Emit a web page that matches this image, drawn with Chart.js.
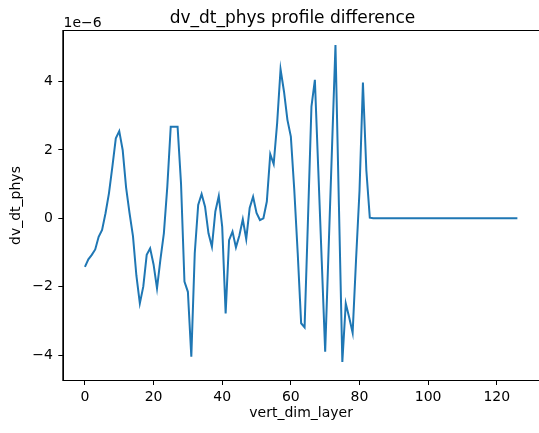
<!DOCTYPE html>
<html>
<head>
<meta charset="utf-8">
<script src="https://cdn.jsdelivr.net/npm/chart.js@4"></script>
<style>
    html, body { margin: 0; padding: 0; background: #fff; }
    #wrap { width: 539px; height: 433px; }
</style>
</head>
<body>
<div id="wrap"><canvas id="profileChart"></canvas></div>
<script>
// dv_dt_phys difference per layer, in units of 1e-6
const dvDtPhys = [
    -1.42, -1.20, -1.07, -0.91, -0.54, -0.34, 0.15, 0.73, 1.51, 2.34,
    2.55, 2.00, 0.90, 0.15, -0.52, -1.68, -2.49, -2.00, -1.07, -0.88,
    -1.35, -2.05, -1.20, -0.44, 0.92, 2.68, 2.68, 2.68, 1.02, -1.85,
    -2.15, -4.05, -1.02, 0.39, 0.71, 0.34, -0.44, -0.83, 0.20, 0.65,
    -0.25, -2.78, -0.64, -0.39, -0.85, -0.50, -0.03, -0.61, 0.30, 0.63,
    0.16, -0.05, 0.00, 0.49, 1.88, 1.59, 2.78, 4.36, 3.71, 2.88,
    2.39, 0.83, -1.02, -3.07, -3.19, 0.00, 3.27, 4.05, 1.40, -1.25,
    -3.90, -0.90, 2.09, 5.07, 0.40, -4.20, -2.49, -2.90, -3.35, -1.20,
    0.80, 3.97, 1.40, 0.02, 0, 0, 0, 0, 0, 0,
    0, 0, 0, 0, 0, 0, 0, 0, 0, 0,
    0, 0, 0, 0, 0, 0, 0, 0, 0, 0,
    0, 0, 0, 0, 0, 0, 0, 0, 0, 0,
    0, 0, 0, 0, 0, 0, 0
];
const layers = dvDtPhys.map((_, i) => i);
const xTicks = [0, 20, 40, 60, 80, 100, 120];
const yTicks = [-4, -2, 0, 2, 4];

const FONT = 'DejaVu Sans';

// title, offset text and the box round the axes
const framePlugin = {
    id: 'frame',
    afterDraw(chart) {
        const { ctx, chartArea: a } = chart;
        ctx.save();
        ctx.strokeStyle = '#000';
        ctx.lineWidth = 1;
        ctx.strokeRect(a.left - 0.5, a.top - 0.5, a.right - a.left + 1, a.bottom - a.top + 1);
        ctx.fillStyle = '#000';
        ctx.textBaseline = 'alphabetic';
        ctx.font = '17px ' + FONT;
        ctx.textAlign = 'center';
        ctx.fillText('dv_dt_phys profile difference', 292.5, 22.5);
        ctx.font = '14px ' + FONT;
        ctx.textAlign = 'left';
        ctx.fillText('1e\u22126', 63.5, 26.5);
        ctx.restore();
    }
};

document.addEventListener('DOMContentLoaded', () => {
    new Chart(document.getElementById('profileChart').getContext('2d'), {
        type: 'line',
        data: {
            datasets: [{
                data: layers.map((x, i) => ({ x: x, y: dvDtPhys[i] })),
                borderColor: '#1f77b4',
                borderWidth: 2,
                pointRadius: 0,
                tension: 0,
                fill: false
            }]
        },
        options: {
            responsive: true,
            maintainAspectRatio: false,
            animation: false,
            layout: { padding: { top: 31, left: 0, right: 0, bottom: 0 } },
            plugins: {
                legend: { display: false },
                tooltip: { enabled: false }
            },
            scales: {
                x: {
                    type: 'linear',
                    min: -6.3,
                    max: 132.3,
                    afterFit: (s) => { s.height = 53; },
                    afterBuildTicks: (s) => { s.ticks = xTicks.map(v => ({ value: v })); },
                    grid: { drawOnChartArea: false, drawTicks: true, tickLength: 5, color: '#000' },
                    border: { display: true, color: '#000', width: 1 },
                    ticks: {
                        color: '#000',
                        padding: 4,
                        maxRotation: 0,
                        font: { family: FONT, size: 14 },
                        callback: (v) => String(v)
                    },
                    title: {
                        display: true,
                        text: 'vert_dim_layer',
                        color: '#000',
                        font: { family: FONT, size: 14 },
                        padding: { top: 0, bottom: 11 }
                    }
                },
                y: {
                    type: 'linear',
                    min: -4.73,
                    max: 5.48,
                    afterFit: (s) => { s.width = 63.3; },
                    afterBuildTicks: (s) => { s.ticks = yTicks.map(v => ({ value: v })); },
                    grid: { drawOnChartArea: false, drawTicks: true, tickLength: 5, color: '#000' },
                    border: { display: true, color: '#000', width: 1 },
                    ticks: {
                        color: '#000',
                        padding: 5.5,
                        font: { family: FONT, size: 14 },
                        callback: (v) => String(v).replace('-', '\u2212')
                    },
                    title: {
                        display: true,
                        text: 'dv_dt_phys',
                        color: '#000',
                        font: { family: FONT, size: 14 },
                        padding: { top: 7.5, bottom: 0 }
                    }
                }
            }
        },
        plugins: [framePlugin]
    });
});
</script>
</body>
</html>
